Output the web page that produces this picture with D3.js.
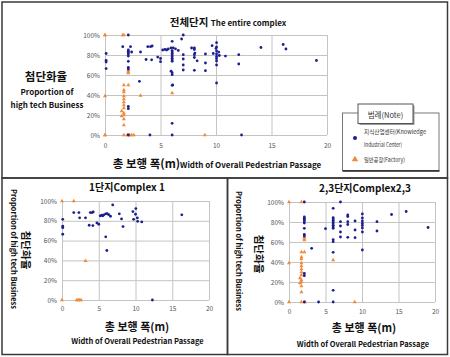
<!DOCTYPE html>
<html><head><meta charset="utf-8">
<script src="https://cdn.jsdelivr.net/npm/d3@7"></script>
<style>
body{margin:0;background:#fff}
svg{display:block}
text{font-family:"Noto Sans CJK KR","Noto Sans",sans-serif}
</style>
</head><body>
<svg id="c" width="450" height="357"></svg>
<script>
// ---- data ----
const xTicks = [0, 5, 10, 15, 20];
const yTicks = [0, 20, 40, 60, 80, 100];

// Complex 1: [width (m), proportion (%)]
const c1Knowledge = [
  [0.1,81.5],[0.1,74.5],[0.1,73],[0.1,66.4],
  [1.6,88.3],[2.3,88.3],[2.4,83],[3.2,83],[3.7,75.5],[3.85,88.3],[4.1,88.3],[4.25,89],
  [4.2,75.2],[4.75,77.9],[5.0,76.5],[5.2,85],[5.4,85.6],[5.55,85],[5.7,86],[5.95,87],
  [6.15,87.2],[6.35,86.2],[6.6,84.6],[5.95,63.8],[6.1,50],[6.9,96],[7.8,87],[8.1,81.9],
  [8.3,74.2],[9.65,89.3],[9.75,81.5],[10.05,92.3],[10.0,86.6],[10.25,82.9],[10.3,79.5],
  [10.85,78.9],[16.3,86],[12.3,0]
];
const c1Factory = [
  [0,100],[1.6,100],[3.2,39.5],[0,0],[2.0,0],[2.2,0],[2.4,0],[2.6,0]
];

// Complex 2,3
const c23Knowledge = [
  [2.1,100],[2.1,85],[2.1,83.7],[2.1,82.3],[2.1,81],[2.1,79],[2.1,73.7],[2.1,67.5],[2.1,66],
  [2.1,28.5],[2.1,26.3],[2.1,0],
  [3.1,53.7],[4.05,0],[5.0,73.3],
  [6.05,93.7],[6.05,84.3],[6.05,83],[6.05,81.5],[6.05,80],[6.05,78.3],[6.05,76.7],[6.05,75],
  [6.05,73.7],[6.05,62.3],[6.05,60.3],[6.05,49.7],[6.05,11.7],[6.05,0],
  [7.05,100],[7.05,80.3],[7.05,76],[7.05,70],[7.05,65],
  [8.05,87],[8.05,85.5],[8.05,80.3],[8.05,77.5],[8.05,64.7],
  [9.05,81],[9.05,72],[9.05,64.3],
  [10.05,88],[10.05,84],[10.05,81],[10.05,78.5],[10.05,76.5],[10.05,74],[10.05,70],[10.05,52],
  [12.05,80.3],[12.05,71],
  [14.05,87.5],[16.05,90.5],[19.05,74.5]
];
const c23Factory = [
  [0,100],[1.7,100],[0,39],[0,0],
  [1.7,50],[2.1,50],[1.7,45],[1.7,43],[1.7,39],[1.7,36],[1.7,33],[1.7,30],[1.7,27],[1.5,24],
  [1.7,22],[1.7,20],[1.5,19],[1.7,16],[1.7,10],[2.1,65],[2.1,63.5],[2.1,62],
  [1.7,0],[2.2,0],[6.05,42],[9.0,0]
];

const allKnowledge = c1Knowledge.concat(c23Knowledge);
const allFactory = c1Factory.concat(c23Factory);

const legendLabels = ["지식산업센터(Knowledge", "Industrial Center)", "일반공장(Factory)"];

// ---- styles ----
const BLUE = "#1b1f8f";
const ORANGE = "#ee8a3a";
const GRID = "#c4c4c4";
const svg = d3.select("#c");

// frames
const frame = svg.append("g").attr("fill","none").attr("stroke","#3a3a3a").attr("stroke-width",1.5);
frame.append("rect").attr("x",2).attr("y",2).attr("width",445.5).attr("height",176);
frame.append("rect").attr("x",2).attr("y",178).attr("width",225.5).attr("height",176.5);
frame.append("rect").attr("x",227.5).attr("y",178).attr("width",220).attr("height",176.5);

function panel(box, blue, orange) {
  const g = svg.append("g");
  const x = d3.scaleLinear().domain([0,20]).range([box.l, box.r]);
  const y = d3.scaleLinear().domain([0,100]).range([box.b, box.t]);
  // grid
  g.append("g").attr("transform",`translate(${box.l},0)`)
    .call(d3.axisLeft(y).tickValues(yTicks).tickSize(-(box.r-box.l)).tickFormat(""))
    .call(s=>{s.select(".domain").remove(); s.selectAll("line").attr("stroke",GRID);});
  g.append("g").attr("transform",`translate(0,${box.b})`)
    .call(d3.axisBottom(x).tickValues(xTicks).tickSize(-(box.b-box.t)).tickFormat(""))
    .call(s=>{s.select(".domain").remove(); s.selectAll("line").attr("stroke",GRID);});
  // tick labels
  g.append("g").attr("transform",`translate(${box.l},0)`)
    .call(d3.axisLeft(y).tickValues(yTicks).tickSize(0).tickPadding(5).tickFormat(d=>d+"%"))
    .call(s=>{s.select(".domain").remove(); s.selectAll("text").attr("fill","#555").style("font-size","6.5px");});
  g.append("g").attr("transform",`translate(0,${box.b})`)
    .call(d3.axisBottom(x).tickValues(xTicks).tickSize(0).tickPadding(box.xpad||7).tickFormat(d3.format("d")))
    .call(s=>{s.select(".domain").remove(); s.selectAll("text").attr("fill","#555").style("font-size","6.5px");});
  // factory (triangles)
  const tri = d3.symbol().type(d3.symbolTriangle).size(7);
  g.append("g").selectAll("path").data(orange).join("path")
    .attr("d",tri).attr("fill",ORANGE)
    .attr("transform",d=>`translate(${x(d[0])},${y(d[1])})`);
  // knowledge center (dots)
  g.append("g").selectAll("circle").data(blue).join("circle")
    .attr("cx",d=>x(d[0])).attr("cy",d=>y(d[1])).attr("r",1.4).attr("fill",BLUE);
  return g;
}

// ---- top panel ----
panel({l:105,r:327,t:35,b:135,xpad:8}, allKnowledge, allFactory);
svg.append("text").attr("x",228).attr("y",26).attr("text-anchor","middle").attr("font-weight","bold").attr("fill","#111")
  .call(t=>{t.append("tspan").style("font-size","10.5px").text("전체단지 ");
            t.append("tspan").style("font-size","8px").text("The entire complex");});
svg.append("text").attr("x",217).attr("y",168).attr("text-anchor","middle").attr("font-weight","bold").attr("fill","#111")
  .call(t=>{t.append("tspan").style("font-size","11.5px").text("총 보행 폭(m)");
            t.append("tspan").style("font-size","8px").text("Width of Overall Pedestrian Passage");});
svg.append("text").attr("x",46).attr("y",81).attr("text-anchor","middle").attr("font-weight","bold").style("font-size","11.5px").attr("fill","#111").text("첨단화율");
svg.append("text").attr("x",47).attr("y",95).attr("text-anchor","middle").attr("font-weight","bold").style("font-size","8px").attr("fill","#111").text("Proportion of");
svg.append("text").attr("x",47).attr("y",108).attr("text-anchor","middle").attr("font-weight","bold").style("font-size","8px").attr("fill","#111").text("high tech Business");

// legend
const lg = svg.append("g");
lg.append("rect").attr("x",342.5).attr("y",113).attr("width",96.5).attr("height",57.5).attr("fill","#fff").attr("stroke","#777");
lg.append("line").attr("x1",342.5).attr("x2",439.5).attr("y1",171).attr("y2",171).attr("stroke","#222").attr("stroke-width",1.5);
lg.append("rect").attr("x",359.5).attr("y",105.5).attr("width",55).attr("height",19.5).attr("fill","#999");
lg.append("rect").attr("x",358).attr("y",104).attr("width",55).attr("height",19.5).attr("fill","#fff").attr("stroke","#555");
lg.append("text").attr("x",385.5).attr("y",117.5).attr("text-anchor","middle").style("font-size","7.5px").attr("fill","#333").text("범례(Note)");
lg.append("circle").attr("cx",355).attr("cy",138).attr("r",2).attr("fill",BLUE);
lg.append("path").attr("d",d3.symbol().type(d3.symbolTriangle).size(18)).attr("fill",ORANGE).attr("transform","translate(355,159.5)");
lg.append("text").attr("x",364).attr("y",134).style("font-size","6px").attr("fill","#333")
  .attr("textLength",62).attr("lengthAdjust","spacingAndGlyphs").text(legendLabels[0]);
lg.append("text").attr("x",364).attr("y",146.5).style("font-size","6px").attr("fill","#333")
  .attr("textLength",38).attr("lengthAdjust","spacingAndGlyphs").text(legendLabels[1]);
lg.append("text").attr("x",364).attr("y",162).style("font-size","6px").attr("fill","#333")
  .attr("textLength",41).attr("lengthAdjust","spacingAndGlyphs").text(legendLabels[2]);

// ---- bottom-left panel ----
panel({l:62,r:209,t:201,b:300,xpad:6}, c1Knowledge, c1Factory);
svg.append("text").attr("x",127).attr("y",191).attr("text-anchor","middle").attr("font-weight","bold").style("font-size","10px").attr("fill","#111").text("1단지Complex 1");
svg.append("text").attr("x",137).attr("y",330.5).attr("text-anchor","middle").attr("font-weight","bold").style("font-size","11px").attr("fill","#111").text("총 보행 폭(m)");
svg.append("text").attr("x",137.5).attr("y",343.5).attr("text-anchor","middle").attr("font-weight","bold").style("font-size","7.5px").attr("fill","#111").text("Width of Overall Pedestrian Passage");
svg.append("text").attr("transform","translate(10.5,249) rotate(90)").attr("text-anchor","middle").attr("font-weight","bold").style("font-size","7.5px").attr("fill","#111").text("Proportion of high tech Business");
svg.append("text").attr("transform","translate(21.5,250) rotate(90)").attr("text-anchor","middle").attr("font-weight","bold").style("font-size","10.5px").attr("fill","#111").text("첨단화율");

// ---- bottom-right panel ----
panel({l:289,r:435,t:202,b:302,xpad:7}, c23Knowledge, c23Factory);
svg.append("text").attr("x",365).attr("y",192).attr("text-anchor","middle").attr("font-weight","bold").style("font-size","10px").attr("fill","#111").text("2,3단지Complex2,3");
svg.append("text").attr("x",364).attr("y",331.5).attr("text-anchor","middle").attr("font-weight","bold").style("font-size","11px").attr("fill","#111").text("총 보행 폭(m)");
svg.append("text").attr("x",363).attr("y",347).attr("text-anchor","middle").attr("font-weight","bold").style("font-size","7.5px").attr("fill","#111").text("Width of Overall Pedestrian Passage");
svg.append("text").attr("transform","translate(235.5,251) rotate(90)").attr("text-anchor","middle").attr("font-weight","bold").style("font-size","7.5px").attr("fill","#111").text("Proportion of high tech Business");
svg.append("text").attr("transform","translate(254.5,254) rotate(90)").attr("text-anchor","middle").attr("font-weight","bold").style("font-size","10.5px").attr("fill","#111").text("첨단화율");
</script>
</body></html>
